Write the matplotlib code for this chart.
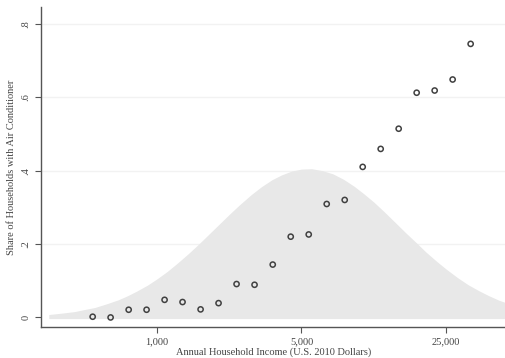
import numpy as np
import matplotlib.pyplot as plt
from matplotlib.ticker import FixedLocator, NullLocator

# binned air conditioner ownership by income
income = [489, 597, 730, 891, 1089, 1330, 1626, 1986, 2427, 2965, 3631,
          4436, 5420, 6622, 8091, 9886, 12078, 14757, 18030, 22029, 26915, 32885]
share = [0.002, 0.0, 0.021, 0.021, 0.048, 0.042, 0.022, 0.039, 0.091, 0.089,
         0.144, 0.220, 0.226, 0.309, 0.320, 0.410, 0.459, 0.514, 0.612, 0.618,
         0.648, 0.745]

# income distribution (scaled density)
dens_x = [300, 350, 400, 450, 500, 570, 650, 720, 800, 900, 1000, 1120, 1250,
          1420, 1600, 1800, 2000, 2250, 2500, 2850, 3200, 3600, 4000, 4500,
          5000, 5600, 6300, 7100, 8000, 9000, 10000, 11200, 12500, 14000,
          16000, 18000, 20000, 22500, 25000, 28500, 32000, 36000, 40000,
          45000, 50000]
dens_y = [0.008, 0.012, 0.016, 0.022, 0.027, 0.037, 0.048, 0.059, 0.072,
          0.088, 0.105, 0.125, 0.147, 0.174, 0.201, 0.229, 0.254, 0.282,
          0.306, 0.334, 0.356, 0.375, 0.388, 0.399, 0.404, 0.405, 0.400,
          0.391, 0.376, 0.357, 0.337, 0.314, 0.289, 0.262, 0.230, 0.203,
          0.178, 0.153, 0.132, 0.108, 0.089, 0.073, 0.060, 0.047, 0.038]

x_ticks = [1000, 5000, 25000]
x_labels = ['1,000', '5,000', '25,000']
y_ticks = [0, 0.2, 0.4, 0.6, 0.8]
y_labels = ['0', '.2', '.4', '.6', '.8']

plt.rcParams['font.family'] = ['Liberation Serif', 'DejaVu Serif']
txt = '#444444'

fig = plt.figure(figsize=(5.06, 3.58), dpi=100)
ax = fig.add_axes([0.081, 0.0866, 0.919, 0.8934])

ax.fill_between(dens_x, -0.003, dens_y, color='#e8e8e8', lw=0, zorder=1)
ax.scatter(income, share, s=14, facecolors='none', edgecolors='#404040',
           linewidths=1.1, zorder=3)

ax.set_xscale('log')
ax.set_xlim(275, 48750)
ax.set_ylim(-0.026, 0.845)

ax.xaxis.set_major_locator(FixedLocator(x_ticks))
ax.xaxis.set_minor_locator(NullLocator())
ax.set_xticklabels(x_labels)
ax.set_yticks(y_ticks)
ax.set_yticklabels(y_labels, rotation=90, va='center')

for v in y_ticks[1:]:
    ax.axhline(v, color='#f2f2f2', lw=1.0, zorder=0)

for s in ['top', 'right']:
    ax.spines[s].set_visible(False)
for s in ['left', 'bottom']:
    ax.spines[s].set_color('#555555')
    ax.spines[s].set_linewidth(1.0)

ax.tick_params(axis='both', colors='#555555', labelcolor=txt, labelsize=7.5,
               length=4, width=0.8)

ax.set_xlabel('Annual Household Income (U.S. 2010 Dollars)', fontsize=7.5,
              color=txt, labelpad=1)
ax.set_ylabel('Share of Households with Air Conditioner', fontsize=7.5,
              color=txt, labelpad=4)

fig.savefig('out.png', dpi=100)
